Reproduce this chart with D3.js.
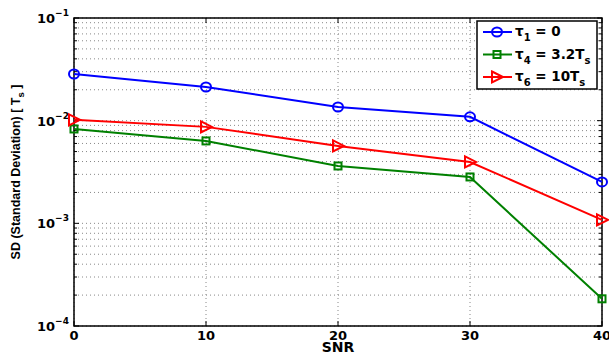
<!DOCTYPE html>
<html>
<head>
<meta charset="utf-8">
<script src="https://cdn.jsdelivr.net/npm/d3@7"></script>
<style>
  body { margin: 0; background: #fff; }
  text { font-family: "DejaVu Sans", sans-serif; font-weight: bold; }
</style>
</head>
<body>
<div id="chart"></div>
<script>
var snr = [0, 10, 20, 30, 40];
var tau1 = [0.0285, 0.0213, 0.0136, 0.0109, 0.00253];
var tau4 = [0.0083, 0.00635, 0.00362, 0.00283, 0.000184];
var tau6 = [0.0102, 0.0087, 0.00568, 0.00396, 0.00108];
var xTicks = [0, 10, 20, 30, 40];
var yTicks = [1e-4, 1e-3, 1e-2, 1e-1];
var yExp = ["\u22124", "\u22123", "\u22122", "\u22121"];

var series = [
  {sub: "1", rest: " = 0", values: tau1, color: "#0000ff", marker: "circle"},
  {sub: "4", rest: " = 3.2T", s: true, values: tau4, color: "#008000", marker: "square"},
  {sub: "6", rest: " = 10T", s: true, values: tau6, color: "#ff0000", marker: "triangle"}
];

var W = 609, H = 354,
    margin = {top: 18, right: 7, bottom: 28, left: 74},
    width = W - margin.left - margin.right,
    height = H - margin.top - margin.bottom;

var svg = d3.select("#chart").append("svg")
    .attr("width", W).attr("height", H);
var g = svg.append("g")
    .attr("transform", "translate(" + margin.left + "," + margin.top + ")");

var x = d3.scaleLinear().domain([0, 40]).range([0, width]);
var y = d3.scaleLog().domain([1e-4, 1e-1]).range([height, 0]);

// minor values for the log grid
var minor = [];
[1e-4, 1e-3, 1e-2].forEach(function(d) {
  for (var k = 2; k <= 9; k++) minor.push(d * k);
});

// grid
g.selectAll(".hgrid").data(minor.concat(yTicks)).enter().append("line")
  .attr("x1", 0).attr("x2", width)
  .attr("y1", function(d) { return y(d); }).attr("y2", function(d) { return y(d); })
  .attr("stroke", "#888").attr("stroke-width", 1)
  .attr("stroke-dasharray", "1,3");
g.selectAll(".vgrid").data(xTicks).enter().append("line")
  .attr("y1", 0).attr("y2", height)
  .attr("x1", function(d) { return x(d); }).attr("x2", function(d) { return x(d); })
  .attr("stroke", "#888").attr("stroke-width", 1)
  .attr("stroke-dasharray", "1,3");

// ticks on all sides, inward
var tk = g.append("g").attr("stroke", "#000").attr("stroke-width", 1);
minor.forEach(function(d) {
  tk.append("line").attr("x1", 0).attr("x2", 3).attr("y1", y(d)).attr("y2", y(d));
  tk.append("line").attr("x1", width).attr("x2", width - 3).attr("y1", y(d)).attr("y2", y(d));
});
yTicks.forEach(function(d) {
  tk.append("line").attr("x1", 0).attr("x2", 5).attr("y1", y(d)).attr("y2", y(d));
  tk.append("line").attr("x1", width).attr("x2", width - 5).attr("y1", y(d)).attr("y2", y(d));
});
xTicks.forEach(function(d) {
  tk.append("line").attr("x1", x(d)).attr("x2", x(d)).attr("y1", height).attr("y2", height - 5);
  tk.append("line").attr("x1", x(d)).attr("x2", x(d)).attr("y1", 0).attr("y2", 5);
});

// box
g.append("rect").attr("width", width).attr("height", height)
  .attr("fill", "none").attr("stroke", "#000").attr("stroke-width", 1.5);

// x tick labels
g.selectAll(".xl").data(xTicks).enter().append("text")
  .attr("x", function(d) { return x(d); })
  .attr("y", height + 14)
  .attr("text-anchor", "middle")
  .style("font-size", "13px")
  .text(function(d) { return d; });

// y tick labels
yTicks.forEach(function(d, i) {
  var t = g.append("text")
    .attr("x", -37).attr("y", y(d) + 5)
    .style("font-size", "13px");
  t.append("tspan").text("10");
  t.append("tspan").attr("dy", -7).style("font-size", "9px").text(yExp[i]);
});

// axis titles
g.append("text").attr("x", width / 2).attr("y", height + 26)
  .attr("text-anchor", "middle").style("font-size", "14px").text("SNR");

var yl = svg.append("text")
  .attr("transform", "translate(20," + (margin.top + height / 2) + ") rotate(-90)")
  .attr("text-anchor", "middle")
  .style("font-family", "'Liberation Sans', Arial, sans-serif")
  .style("font-size", "12.5px");
yl.append("tspan").text("SD (Standard Deviation) [ T");
yl.append("tspan").attr("dy", 4).style("font-size", "9.5px").text("s");
yl.append("tspan").attr("dy", -4).text(" ]");

// markers
function drawMarker(sel, type, color) {
  if (type === "circle") {
    sel.append("ellipse").attr("rx", 5).attr("ry", 4.5);
  } else if (type === "square") {
    sel.append("rect").attr("x", -3.5).attr("y", -3.5).attr("width", 7).attr("height", 7);
  } else {
    sel.append("path").attr("d", "M-5,-5.5L6,0L-5,5.5Z");
  }
  sel.selectAll("*").attr("fill", "none").attr("stroke", color).attr("stroke-width", 2);
}

var line = d3.line()
  .x(function(d, i) { return x(snr[i]); })
  .y(function(d) { return y(d); });

series.forEach(function(s) {
  g.append("path").datum(s.values)
    .attr("d", line)
    .attr("fill", "none").attr("stroke", s.color).attr("stroke-width", 2);
  s.values.forEach(function(v, i) {
    var m = g.append("g").attr("transform", "translate(" + x(snr[i]) + "," + y(v) + ")");
    drawMarker(m, s.marker, s.color);
  });
});

// legend
var lg = svg.append("g").attr("transform", "translate(477,21)");
lg.append("rect").attr("width", 120).attr("height", 68)
  .attr("fill", "#fff").attr("stroke", "#000").attr("stroke-width", 1.5);
series.forEach(function(s, i) {
  var row = lg.append("g").attr("transform", "translate(0," + (11 + i * 22.5) + ")");
  row.append("line").attr("x1", 6).attr("x2", 35)
    .attr("stroke", s.color).attr("stroke-width", 2);
  var m = row.append("g").attr("transform", "translate(20,0)");
  drawMarker(m, s.marker, s.color);
  var t = row.append("text").attr("x", 38).attr("y", 4).style("font-size", "13.5px");
  t.append("tspan").text("\u03c4");
  t.append("tspan").attr("dy", 5).style("font-size", "10px").text(s.sub);
  t.append("tspan").attr("dy", -5).text(s.rest);
  if (s.s) t.append("tspan").attr("dy", 5).style("font-size", "10px").text("s");
});
</script>
</body>
</html>
